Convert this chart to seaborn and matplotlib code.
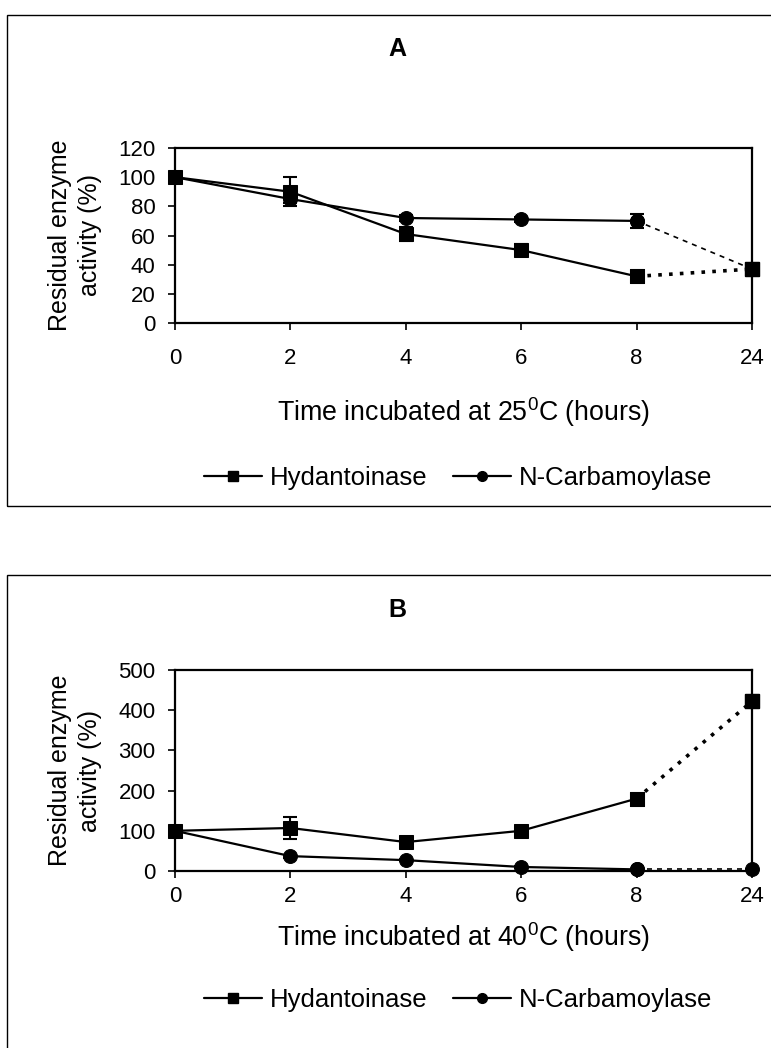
import numpy as np
import pandas as pd
import matplotlib
matplotlib.use("Agg")
import matplotlib.pyplot as plt
from matplotlib.lines import Line2D
from matplotlib.patches import Rectangle
import seaborn as sns

hours = ["0", "2", "4", "6", "8", "24"]

# panel A, 25 C
hyd_25 = [100, 90, 61, 50, 32, 37]
hyd_25_err = [0, 10, 5, 4, 2, 2]
carb_25 = [100, 85, 72, 71, 70, 37]
carb_25_err = [0, 3, 2, 2, 5, 2]

# panel B, 40 C
hyd_40 = [100, 107, 72, 100, 180, 422]
hyd_40_err = [3, 28, 10, 5, 8, 5]
carb_40 = [100, 37, 27, 10, 4, 4]
carb_40_err = [0, 4, 3, 2, 1, 1]

sns.set_style("white")
plt.rcParams.update({
    "font.family": ["Liberation Sans", "DejaVu Sans"],
    "mathtext.default": "regular",
    "text.color": "black",
    "axes.labelcolor": "black",
    "axes.edgecolor": "black",
    "xtick.color": "black",
    "ytick.color": "black",
})

W, H = 771, 1048
fig = plt.figure(figsize=(W / 100, H / 100), dpi=100)

AX_L, AX_R = 175, 752


def fx(px):
    return px / W


def fy(py):
    return 1 - py / H


def draw_panel(ax, hyd, hyd_err, carb, carb_err, ymax, ystep, title, temp,
               title_y, legend_y, xlabel_y, xpad):
    x = np.arange(len(hours))
    for vals, err, mk in [(hyd, hyd_err, "s"), (carb, carb_err, "o")]:
        ax.errorbar(x, vals, yerr=err, fmt="none", ecolor="black", elinewidth=1.5,
                    capsize=5, capthick=1.5, clip_on=False, zorder=3)
        sns.lineplot(x=x[:5], y=vals[:5], ax=ax, color="black", lw=1.6, marker=mk,
                     markersize=10, markeredgecolor="black", clip_on=False, zorder=4)
    sns.lineplot(x=x[4:], y=hyd[4:], ax=ax, color="black", lw=2.6, linestyle=(0, (1, 2)),
                 marker="s", markersize=10, markeredgecolor="black", clip_on=False, zorder=4)
    sns.lineplot(x=x[4:], y=carb[4:], ax=ax, color="black", lw=1.2, linestyle=(0, (3, 3)),
                 marker="o", markersize=10, markeredgecolor="black", clip_on=False, zorder=4)
    # hydantoinase endpoint on top
    ax.plot(x[5], hyd[5], "s", color="black", markersize=10, clip_on=False, zorder=5)

    ax.set_xlim(0, len(hours) - 1)
    ax.set_ylim(0, ymax)
    ax.set_xticks(x)
    ax.set_xticklabels(hours)
    ax.set_yticks(np.arange(0, ymax + 1, ystep))
    ax.tick_params(axis="both", labelsize=16, length=5, width=1.2, direction="out",
                   bottom=True, left=True, pad=9)
    ax.tick_params(axis="x", pad=xpad)
    for s in ax.spines.values():
        s.set_linewidth(1.6)
        s.set_color("black")
    ax.grid(False)

    ax.set_ylabel("Residual enzyme\nactivity (%)", fontsize=18, linespacing=1.35)
    ax.yaxis.set_label_coords((75 - AX_L) / (AX_R - AX_L), 0.5)
    ax.yaxis.label.set_va("center")
    ax.set_xlabel(f"Time incubated at {temp}$^0$C (hours)", fontsize=19.3)
    bbox = ax.get_position()
    ax_h = (bbox.y1 - bbox.y0) * H
    ax.xaxis.set_label_coords(0.5, -(xlabel_y - (1 - bbox.y0) * H) / ax_h)
    ax.xaxis.label.set_va("center")

    fig.text(fx(397), fy(title_y), title, fontsize=18, fontweight="bold",
             ha="center", va="center")

    handles = [
        Line2D([], [], color="black", lw=1.6, marker="s", markersize=7),
        Line2D([], [], color="black", lw=1.6, marker="o", markersize=7),
    ]
    fig.legend(handles, ["Hydantoinase", "N-Carbamoylase"], loc="center",
               bbox_to_anchor=(fx(458), fy(legend_y)), ncol=2, frameon=False,
               fontsize=18.5, handlelength=2.25, handletextpad=0.3, columnspacing=1.0,
               borderaxespad=0, borderpad=0)


# panel frames
fig.patches.append(Rectangle((fx(7), fy(506)), 1.2, fy(15) - fy(506),
                             transform=fig.transFigure, fill=False, lw=1.0, ec="black"))
fig.patches.append(Rectangle((fx(7), -0.05), 1.2, fy(575) + 0.05,
                             transform=fig.transFigure, fill=False, lw=1.0, ec="black"))

ax_a = fig.add_axes([fx(AX_L), fy(323), fx(AX_R) - fx(AX_L), fy(148) - fy(323)])
draw_panel(ax_a, hyd_25, hyd_25_err, carb_25, carb_25_err, 120, 20, "A", 25,
           49, 478, 412, 13)

ax_b = fig.add_axes([fx(AX_L), fy(871), fx(AX_R) - fx(AX_L), fy(670) - fy(871)])
draw_panel(ax_b, hyd_40, hyd_40_err, carb_40, carb_40_err, 500, 100, "B", 40,
           610, 1000, 937, 6)

fig.savefig("out.png", dpi=100, facecolor="white")
